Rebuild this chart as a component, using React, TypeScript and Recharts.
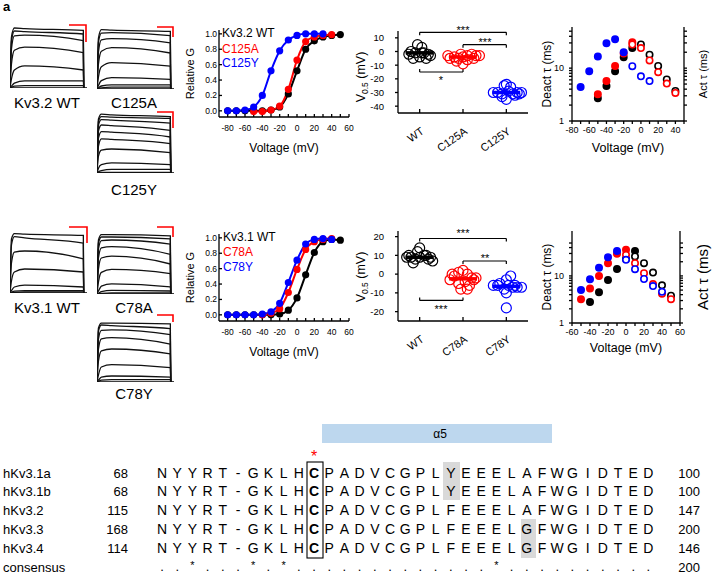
import React from "react";
import { LineChart, Line, XAxis, YAxis, ReferenceLine, ScatterChart, Scatter } from "recharts";

const FONT = 'Arial, "Liberation Sans", Helvetica, sans-serif';
const BLACK = "#000000";
const RED = "#ff0000";
const BLUE = "#0000ff";

// ---- current traces (normalised amplitude at TRACE_T, arbitrary time units) ----
const TRACE_T = [0, 2, 6, 20, 100, 100.5];
const KV32_WT_TRACES = [
  [0, 0.85, 1.0, 0.99, 0.96, 0],
  [0, 0.78, 0.95, 0.94, 0.9, 0],
  [0, 0.65, 0.87, 0.88, 0.79, 0],
  [0, 0.4, 0.63, 0.68, 0.59, 0],
  [0, 0.15, 0.3, 0.37, 0.3, 0],
  [0, 0.03, 0.08, 0.12, 0.12, 0],
  [0, 0.01, 0.03, 0.04, 0.04, 0],
];
const C125A_TRACES = [
  [0, 0.85, 0.99, 0.98, 0.96, 0],
  [0, 0.78, 0.93, 0.94, 0.89, 0],
  [0, 0.62, 0.82, 0.84, 0.77, 0],
  [0, 0.42, 0.63, 0.69, 0.6, 0],
  [0, 0.2, 0.37, 0.44, 0.38, 0],
  [0, 0.06, 0.14, 0.19, 0.16, 0],
  [0, 0.02, 0.05, 0.07, 0.07, 0],
  [0, 0.01, 0.02, 0.03, 0.03, 0],
];
const C125Y_TRACES = [
  [0, 0.9, 0.98, 0.97, 0.94, 0],
  [0, 0.86, 0.94, 0.93, 0.91, 0],
  [0, 0.8, 0.89, 0.88, 0.83, 0],
  [0, 0.7, 0.8, 0.79, 0.71, 0],
  [0, 0.58, 0.69, 0.68, 0.6, 0],
  [0, 0.45, 0.57, 0.56, 0.49, 0],
  [0, 0.28, 0.38, 0.4, 0.34, 0],
  [0, 0.08, 0.14, 0.17, 0.14, 0],
  [0, 0.02, 0.04, 0.06, 0.06, 0],
  [0, 0.005, 0.01, 0.01, 0.01, 0],
];
const KV31_WT_TRACES = [
  [0, 0.9, 0.99, 0.98, 0.96, 0],
  [0, 0.8, 0.94, 0.92, 0.83, 0],
  [0, 0.5, 0.68, 0.7, 0.57, 0],
  [0, 0.2, 0.35, 0.4, 0.35, 0],
  [0, 0.04, 0.1, 0.13, 0.1, 0],
  [0, 0.01, 0.03, 0.04, 0.04, 0],
  [0, 0.005, 0.01, 0.02, 0.02, 0],
];
const C78A_TRACES = [
  [0, 0.9, 0.99, 0.99, 0.97, 0],
  [0, 0.85, 0.95, 0.95, 0.92, 0],
  [0, 0.75, 0.89, 0.9, 0.83, 0],
  [0, 0.6, 0.77, 0.79, 0.66, 0],
  [0, 0.42, 0.6, 0.63, 0.5, 0],
  [0, 0.2, 0.36, 0.41, 0.34, 0],
  [0, 0.05, 0.13, 0.17, 0.12, 0],
  [0, 0.01, 0.04, 0.06, 0.05, 0],
  [0, 0.005, 0.01, 0.02, 0.02, 0],
];
const C78Y_TRACES = [
  [0, 0.9, 0.98, 0.98, 0.97, 0],
  [0, 0.85, 0.95, 0.94, 0.89, 0],
  [0, 0.72, 0.86, 0.87, 0.79, 0],
  [0, 0.55, 0.72, 0.74, 0.63, 0],
  [0, 0.35, 0.52, 0.55, 0.47, 0],
  [0, 0.12, 0.25, 0.29, 0.24, 0],
  [0, 0.03, 0.08, 0.1, 0.08, 0],
  [0, 0.01, 0.03, 0.04, 0.04, 0],
];

// ---- G-V curves ----
const GV_VOLT = [-80, -70, -60, -50, -40, -30, -20, -10, 0, 10, 20, 30, 40, 50];
const GV_KV32_WT = [0, 0, 0, 0, 0, 0.01, 0.05, 0.22, 0.52, 0.8, 0.91, 0.96, 0.98, 0.99];
const GV_C125A = [null, null, null, -0.01, -0.01, 0.01, 0.06, 0.28, 0.66, 0.9, 0.96, 0.98, 0.99, null];
const GV_C125Y = [0, 0, 0.01, 0.05, 0.2, 0.52, 0.78, 0.92, 0.98, 1.0, 1.0, 1.0, null, null];
const GV_KV31_WT = [0, 0, 0, 0, 0, 0, 0.01, 0.06, 0.22, 0.52, 0.81, 0.95, 0.98, 0.97];
const GV_C78A = [null, null, null, null, 0, 0.02, 0.08, 0.29, 0.59, 0.85, 0.95, 0.98, 0.99, null];
const GV_C78Y = [0, 0, 0, 0, 0.01, 0.04, 0.15, 0.42, 0.71, 0.92, 0.98, 0.99, 0.98, null];
const GV_X_TICKS = [-80, -70, -60, -50, -40, -30, -20, -10, 0, 10, 20, 30, 40, 50, 60];
const GV_Y_TICKS = [0, 0.2, 0.4, 0.6, 0.8, 1.0];

// ---- V0.5 scatter (offset within category, value in mV) ----
const V05_KV32_CATS = ["WT", "C125A", "C125Y"];
const V05_KV31_CATS = ["WT", "C78A", "C78Y"];
const V05_KV32_WT_OFF = [-0.05, 0.05, -0.2, -0.1, 0.1, 0.2, -0.25, 0, -0.15, 0.15, 0.25, 0.05];
const V05_KV32_WT = [5, 3, 0, -1, -1, -2, -2, -4, -5, -5, -3, -1];
const V05_C125A_OFF = [-0.35, -0.2, -0.1, 0, 0.1, 0.2, 0.3, 0.38, -0.3, -0.15, 0, 0.1, -0.05, 0.25];
const V05_C125A = [-3, -4, -5, -4, -3, -2, -3, -3, -5, -7, -9, -6, -2, -5];
const V05_C125Y_OFF = [0, -0.05, 0.1, -0.3, -0.2, -0.1, 0.05, 0.15, 0.25, 0.35, 0, -0.1, 0.2, 0.3];
const V05_C125Y = [-24, -25, -26, -30, -30, -31, -29, -31, -30, -30, -35, -33, -32, -31];
const V05_KV32_MEANS = [-1, -4, -30];
const V05_KV31_WT_OFF = [0, -0.05, 0.1, -0.3, -0.2, -0.1, 0.2, 0.3, -0.15, 0, 0.15, 0.25, -0.25];
const V05_KV31_WT = [14, 12, 10, 9, 9, 8, 8, 7, 6, 9, 10, 9, 10];
const V05_C78A_OFF = [0, -0.1, 0.1, -0.25, -0.2, 0.2, 0.3, -0.3, 0.05, -0.1, 0.15, -0.05, 0.1, 0.25];
const V05_C78A = [2, 1, 0, 0, -1, -2, -2, -3, -4, -5, -6, -8, -8, -3];
const V05_C78Y_OFF = [0.1, 0, -0.15, -0.3, -0.2, 0.05, 0.15, 0.25, 0.35, -0.05, 0, 0, 0.2];
const V05_C78Y = [-1, -3, -5, -6, -6, -6, -7, -7, -7, -8, -10, -18, -6];
const V05_KV31_MEANS = [9, -2.5, -6.5];

// ---- time constants (ms) ----
const TAU32_WT_DEACT_V = [-50, -40, -30, -20, -10];
const TAU32_WT_DEACT = [2.7, 4.6, 8.7, 16, 24];
const TAU32_WT_ACT_V = [0, 10, 20, 30, 40];
const TAU32_WT_ACT = [28, 18, 11, 6.1, 3.7];
const TAU32_A_DEACT_V = [-50, -40, -30, -20, -10];
const TAU32_A_DEACT = [3.2, 5.7, 11, 19, 31];
const TAU32_A_ACT_V = [-10, 0, 10, 20, 30, 40];
const TAU32_A_ACT = [28, 24, 14, 8.4, 5.1, 3.4];
const TAU32_Y_DEACT_V = [-70, -60, -50, -40, -30, -20];
const TAU32_Y_DEACT = [4.4, 8.7, 16.6, 29.7, 35, 20];
const TAU32_Y_ACT_V = [-10, 0, 10];
const TAU32_Y_ACT = [10.9, 7, 5.7];

const TAU31_WT_DEACT_V = [-40, -30, -20, -10, 0, 10];
const TAU31_WT_DEACT = [2.8, 4.5, 8.2, 14, 23, 34];
const TAU31_WT_ACT_V = [10, 20, 30, 40, 50];
const TAU31_WT_ACT = [26, 18.7, 11.8, 6.3, 3.8];
const TAU31_A_DEACT_V = [-50, -40, -30, -20, -10, 0];
const TAU31_A_DEACT = [3.2, 5.4, 10, 18.7, 29.5, 36];
const TAU31_A_ACT_V = [0, 10, 20, 30, 40, 50];
const TAU31_A_ACT = [28, 18.7, 11.4, 6.7, 4.2, 3.2];
const TAU31_Y_DEACT_V = [-50, -40, -30, -20, -10];
const TAU31_Y_DEACT = [5, 8.5, 15, 25, 34];
const TAU31_Y_ACT_V = [0, 10, 20, 30, 40];
const TAU31_Y_ACT = [22, 13.9, 8.6, 6.1, 4.6];

const LOG_TICKS = [1, 2, 3, 4, 5, 6, 7, 8, 9, 10, 20, 30, 40, 50];
const TAU32_X_TICKS = [-80, -70, -60, -50, -40, -30, -20, -10, 0, 10, 20, 30, 40, 50];
const TAU31_X_TICKS = [-60, -50, -40, -30, -20, -10, 0, 10, 20, 30, 40, 50, 60];

// ---- alignment ----
const ALIGN_NAMES = ["hKv3.1a", "hKv3.1b", "hKv3.2", "hKv3.3", "hKv3.4"];
const ALIGN_START = [68, 68, 115, 168, 114];
const ALIGN_END = [100, 100, 147, 200, 146];
const ALIGN_SEQS = [
  "NYYRT-GKLHCPADVCGPLYEEELAFWGIDTED",
  "NYYRT-GKLHCPADVCGPLYEEELAFWGIDTED",
  "NYYRT-GKLHCPADVCGPLFEEELAFWGIDTED",
  "NYYRT-GKLHCPADVCGPLFEEELGFWGIDTED",
  "NYYRT-GKLHCPADVCGPLFEEELGFWGIDTED",
];
const CONSENSUS = "..*...*.*.............*..........";

const tauRows = (vs: number[], ts: number[]) => vs.map((v, i) => ({ v, tau: ts[i] }));
const v05Rows = (group: number, offs: number[], vals: number[]) =>
  offs.map((o, i) => ({ x: group + 0.5 + o, y: vals[i] }));

function TracePanel({ left, baseline, traces }: { left: number; baseline: number; traces: number[][] }) {
  const rows = TRACE_T.map((t, i) => {
    const row: Record<string, number> = { t };
    traces.forEach((tr, k) => (row["s" + k] = tr[i]));
    return row;
  });
  return (
    <div style={{ position: "absolute", left, top: baseline - 63 }}>
      <LineChart width={77} height={63} data={rows} margin={{ top: 0, right: 0, bottom: 0, left: 0 }}>
        <XAxis type="number" dataKey="t" domain={[0, 105]} hide />
        <YAxis type="number" domain={[0, 1.05]} hide />
        <ReferenceLine y={0} stroke={BLACK} strokeWidth={1.4} />
        {traces.map((_, k) => (
          <Line key={k} dataKey={"s" + k} type="monotone" stroke="#111111" strokeWidth={1.3} dot={false} isAnimationActive={false} />
        ))}
      </LineChart>
    </div>
  );
}

const tickStyle = (size: number) => ({ fontSize: size, fill: BLACK });

function GVPanel({ top, series }: { top: number; series: { values: (number | null)[]; color: string }[] }) {
  const rows = GV_VOLT.map((v, i) => {
    const row: Record<string, number | null> = { v };
    series.forEach((s, k) => (row["g" + k] = s.values[i]));
    return row;
  });
  return (
    <div style={{ position: "absolute", left: 180, top }}>
      <LineChart width={180} height={160} data={rows} margin={{ top: 30, right: 11, bottom: 8, left: 0 }}>
        <XAxis
          type="number"
          dataKey="v"
          domain={[-90, 60]}
          ticks={GV_X_TICKS}
          interval={0}
          tickFormatter={(v: number) => (v % 20 === 0 ? String(v) : "")}
          tick={tickStyle(8.5)}
          tickSize={-3}
          tickMargin={11}
          stroke={BLACK}
          strokeWidth={1.3}
          height={35}
          label={{ value: "Voltage (mV)", position: "insideBottom", offset: 0, fontSize: 12, fill: BLACK }}
        />
        <YAxis
          type="number"
          domain={[-0.08, 1.05]}
          ticks={GV_Y_TICKS}
          interval={0}
          tickFormatter={(v: number) => v.toFixed(1)}
          tick={tickStyle(8.5)}
          tickSize={-3}
          tickMargin={5}
          stroke={BLACK}
          strokeWidth={1.3}
          width={39}
          label={{ value: "Relative G", angle: -90, position: "insideLeft", offset: 10, fontSize: 11, fill: BLACK, style: { textAnchor: "middle" } }}
        />
        {series.map((s, k) => (
          <Line
            key={k}
            dataKey={"g" + k}
            type="monotone"
            stroke={s.color}
            strokeWidth={2}
            dot={{ r: 2.6, fill: s.color, stroke: s.color }}
            connectNulls
            isAnimationActive={false}
          />
        ))}
      </LineChart>
    </div>
  );
}

type Bracket = { a: number; b: number; y: number; dir: number };

function V05Panel({
  top, cats, domain, ticks, groups, means, brackets, tick,
}: {
  top: number; cats: string[]; domain: [number, number]; ticks: number[];
  groups: { offs: number[]; vals: number[]; color: string }[]; means: number[]; brackets: Bracket[]; tick: number;
}) {
  const catTick = (props: any) => {
    const { x, y, payload } = props;
    const ax = x + 5;
    const ay = y + 16;
    return (
      <text x={ax} y={ay} textAnchor="end" fontSize={11} fill={BLACK} transform={`rotate(-35, ${ax}, ${ay})`}>
        {cats[Math.floor(payload.value)]}
      </text>
    );
  };
  const plotH = top === 0 ? 82 : 90;
  return (
    <div style={{ position: "absolute", left: 360, top }}>
      <ScatterChart width={180} height={160} margin={{ top: 31, right: 12, bottom: 160 - 31 - plotH - 38, left: 0 }}>
        <XAxis
          type="number"
          dataKey="x"
          domain={[0, 3]}
          ticks={[0.5, 1.5, 2.5]}
          interval={0}
          tick={catTick}
          tickSize={-4}
          tickMargin={8}
          stroke={BLACK}
          strokeWidth={1.3}
          height={38}
        />
        <YAxis
          type="number"
          dataKey="y"
          domain={domain}
          ticks={ticks}
          interval={0}
          tick={tickStyle(9.5)}
          tickSize={3}
          tickMargin={11}
          stroke={BLACK}
          strokeWidth={1.3}
          width={38}
          allowDataOverflow
        />
        {groups.map((g, k) => (
          <Scatter
            key={k}
            data={v05Rows(k, g.offs, g.vals)}
            isAnimationActive={false}
            shape={(p: any) => <circle cx={p.cx} cy={p.cy} r={5} fill="none" stroke={g.color} strokeWidth={1.2} />}
          />
        ))}
        {means.map((m, k) => (
          <ReferenceLine
            key={"m" + k}
            segment={[{ x: k + 0.18, y: m }, { x: k + 0.82, y: m }]}
            stroke={groups[k].color}
            strokeWidth={3.5}
          />
        ))}
        {brackets.map((b, k) => [
          <ReferenceLine key={"b" + k} segment={[{ x: b.a, y: b.y }, { x: b.b, y: b.y }]} stroke={BLACK} strokeWidth={1.2} />,
          <ReferenceLine key={"l" + k} segment={[{ x: b.a, y: b.y }, { x: b.a, y: b.y + b.dir * tick }]} stroke={BLACK} strokeWidth={1.2} />,
          <ReferenceLine key={"r" + k} segment={[{ x: b.b, y: b.y }, { x: b.b, y: b.y + b.dir * tick }]} stroke={BLACK} strokeWidth={1.2} />,
        ])}
      </ScatterChart>
    </div>
  );
}

type TauSeries = { rows: { v: number; tau: number }[]; color: string; open: boolean };

function TauPanel({
  top, xDomain, xTicks, yMax, plotH, rightW, rightFont, series,
}: {
  top: number; xDomain: [number, number]; xTicks: number[]; yMax: number; plotH: number; rightW: number; rightFont: number; series: TauSeries[];
}) {
  const xAxisH = top === 0 ? 31 : 29;
  const logTicks = LOG_TICKS.filter((t) => t <= yMax);
  return (
    <div style={{ position: "absolute", left: 540, top }}>
      <ScatterChart width={175} height={160} margin={{ top: 160 - 8 - xAxisH - plotH, right: 0, bottom: 8, left: 0 }}>
        <XAxis
          type="number"
          dataKey="v"
          domain={xDomain}
          ticks={xTicks}
          interval={0}
          tickFormatter={(v: number) => (v % 20 === 0 ? String(v) : "")}
          tick={tickStyle(9)}
          tickSize={3}
          tickMargin={3}
          stroke={BLACK}
          strokeWidth={1.3}
          height={xAxisH}
          label={{ value: "Voltage (mV)", position: "insideBottom", offset: 0, fontSize: 12.5, fill: BLACK }}
        />
        <YAxis
          yAxisId="l"
          type="number"
          dataKey="tau"
          scale="log"
          domain={[1, yMax]}
          allowDataOverflow
          ticks={logTicks}
          interval={0}
          tickFormatter={(v: number) => (v === 1 || v === 10 ? String(v) : "")}
          tick={tickStyle(9)}
          tickSize={3}
          tickMargin={5}
          stroke={BLACK}
          strokeWidth={1.3}
          width={32}
          label={{ value: "Deact τ (ms)", angle: -90, position: "insideLeft", offset: 7, fontSize: 12, fill: BLACK, style: { textAnchor: "middle" } }}
        />
        <YAxis
          yAxisId="r"
          orientation="right"
          type="number"
          scale="log"
          domain={[1, yMax]}
          allowDataOverflow
          ticks={logTicks}
          interval={0}
          tickFormatter={() => ""}
          tickSize={3}
          stroke={BLACK}
          strokeWidth={1.3}
          width={rightW}
          label={{ value: "Act τ (ms)", angle: -90, position: "insideRight", offset: 12, fontSize: rightFont, fill: BLACK, style: { textAnchor: "middle" } }}
        />
        {series.map((s, k) => (
          <Scatter
            key={k}
            yAxisId="l"
            data={s.rows}
            isAnimationActive={false}
            shape={(p: any) => (
              <circle cx={p.cx} cy={p.cy} r={3.2} fill={s.open ? "#ffffff" : s.color} stroke={s.color} strokeWidth={1.6} />
            )}
          />
        ))}
      </ScatterChart>
    </div>
  );
}

function ScaleBar({ x1, x2, y, y2 }: { x1: number; x2: number; y: number; y2: number }) {
  return <path d={`M${x1},${y} H${x2} V${y2}`} fill="none" stroke={RED} strokeWidth={1.6} />;
}

function Overlay() {
  const colX = (i: number) => 162 + 15.2 * i;
  const rowY = [473, 491, 510, 529, 548];
  return (
    <svg width={715} height={577} style={{ position: "absolute", left: 0, top: 0, pointerEvents: "none" }} fontFamily={FONT}>
      <text x={3} y={11} fontSize={13} fontWeight="bold">a</text>

      {/* trace labels and scale bars */}
      <text x={47} y={108} fontSize={15} textAnchor="middle">Kv3.2 WT</text>
      <text x={134} y={108} fontSize={15} textAnchor="middle">C125A</text>
      <text x={134} y={195} fontSize={15} textAnchor="middle">C125Y</text>
      <text x={47} y={313} fontSize={15} textAnchor="middle">Kv3.1 WT</text>
      <text x={134} y={313} fontSize={15} textAnchor="middle">C78A</text>
      <text x={134} y={399} fontSize={15} textAnchor="middle">C78Y</text>
      <ScaleBar x1={69} x2={86} y={25} y2={42} />
      <ScaleBar x1={157} x2={173} y={27} y2={37} />
      <ScaleBar x1={157} x2={173} y={112} y2={128} />
      <ScaleBar x1={69} x2={87} y={227} y2={243} />
      <ScaleBar x1={157} x2={173} y={227} y2={237} />
      <ScaleBar x1={157} x2={173} y={315} y2={322} />

      {/* G-V legends */}
      <text x={222} y={37} fontSize={12} fill={BLACK}>Kv3.2 WT</text>
      <text x={222} y={53} fontSize={12} fill={RED}>C125A</text>
      <text x={222} y={67} fontSize={12} fill={BLUE}>C125Y</text>
      <text x={223} y={241} fontSize={12} fill={BLACK}>Kv3.1 WT</text>
      <text x={223} y={256} fontSize={12} fill={RED}>C78A</text>
      <text x={223} y={271} fontSize={12} fill={BLUE}>C78Y</text>

      {/* V0.5 axis titles */}
      <text transform="translate(365,77) rotate(-90)" textAnchor="middle" fontSize={12.5}>
        V<tspan fontSize={8.5} dy={3}>0.5</tspan><tspan dy={-3}> (mV)</tspan>
      </text>
      <text transform="translate(365,277) rotate(-90)" textAnchor="middle" fontSize={12.5}>
        V<tspan fontSize={8.5} dy={3}>0.5</tspan><tspan dy={-3}> (mV)</tspan>
      </text>

      {/* significance */}
      <text x={463} y={34} fontSize={11} textAnchor="middle">***</text>
      <text x={485} y={46} fontSize={11} textAnchor="middle">***</text>
      <text x={441} y={84} fontSize={11} textAnchor="middle">*</text>
      <text x={463} y={237} fontSize={11} textAnchor="middle">***</text>
      <text x={485} y={262} fontSize={11} textAnchor="middle">**</text>
      <text x={441} y={313} fontSize={11} textAnchor="middle">***</text>

      {/* alignment */}
      <rect x={322} y={424} width={230} height={19} fill="#bdd7ee" />
      <text x={440} y={438} fontSize={12} textAnchor="middle">α5</text>
      <rect x={443} y={462} width={17} height={38} fill="#d9d9d9" />
      <rect x={521} y={519} width={15} height={39} fill="#d9d9d9" />
      <rect x={307} y={462} width={16} height={96} fill="none" stroke={BLACK} strokeWidth={1.1} />
      <text x={314} y={462} fontSize={16} fill={RED} textAnchor="middle">*</text>
      {ALIGN_NAMES.map((n, r) => (
        <g key={n} fontSize={13}>
          <text x={3} y={rowY[r] + 5}>{n}</text>
          <text x={128} y={rowY[r] + 5} textAnchor="end">{ALIGN_START[r]}</text>
          <text x={700} y={rowY[r] + 5} textAnchor="end">{ALIGN_END[r]}</text>
          {ALIGN_SEQS[r].split("").map((c, i) => (
            <text key={i} x={colX(i)} y={rowY[r] + 5} fontSize={14} textAnchor="middle" fontWeight={i === 10 ? "bold" : "normal"}>
              {c}
            </text>
          ))}
        </g>
      ))}
      <text x={3} y={572} fontSize={13}>consensus</text>
      <text x={700} y={572} fontSize={13} textAnchor="end">200</text>
      {CONSENSUS.split("").map((c, i) => (
        <text key={i} x={colX(i)} y={c === "*" ? 569 : 571} fontSize={c === "*" ? 11 : 13} textAnchor="middle">
          {c}
        </text>
      ))}
    </svg>
  );
}

export default function App() {
  return (
    <div style={{ position: "absolute", left: 0, top: 0, width: 715, height: 577, background: "#ffffff", fontFamily: FONT, overflow: "hidden" }}>
      <TracePanel left={10} baseline={88} traces={KV32_WT_TRACES} />
      <TracePanel left={97} baseline={89} traces={C125A_TRACES} />
      <TracePanel left={97} baseline={173} traces={C125Y_TRACES} />
      <TracePanel left={10} baseline={293} traces={KV31_WT_TRACES} />
      <TracePanel left={97} baseline={294} traces={C78A_TRACES} />
      <TracePanel left={97} baseline={382} traces={C78Y_TRACES} />

      <GVPanel
        top={0}
        series={[
          { values: GV_KV32_WT, color: BLACK },
          { values: GV_C125A, color: RED },
          { values: GV_C125Y, color: BLUE },
        ]}
      />
      <GVPanel
        top={204}
        series={[
          { values: GV_KV31_WT, color: BLACK },
          { values: GV_C78A, color: RED },
          { values: GV_C78Y, color: BLUE },
        ]}
      />

      <V05Panel
        top={0}
        cats={V05_KV32_CATS}
        domain={[-45, 15]}
        ticks={[-40, -30, -20, -10, 0, 10]}
        groups={[
          { offs: V05_KV32_WT_OFF, vals: V05_KV32_WT, color: BLACK },
          { offs: V05_C125A_OFF, vals: V05_C125A, color: RED },
          { offs: V05_C125Y_OFF, vals: V05_C125Y, color: BLUE },
        ]}
        means={V05_KV32_MEANS}
        brackets={[
          { a: 0.5, b: 2.5, y: 14, dir: -1 },
          { a: 1.5, b: 2.5, y: 5, dir: -1 },
          { a: 0.5, b: 1.5, y: -15, dir: 1 },
        ]}
        tick={2.2}
      />
      <V05Panel
        top={200}
        cats={V05_KV31_CATS}
        domain={[-25, 23]}
        ticks={[-20, -10, 0, 10, 20]}
        groups={[
          { offs: V05_KV31_WT_OFF, vals: V05_KV31_WT, color: BLACK },
          { offs: V05_C78A_OFF, vals: V05_C78A, color: RED },
          { offs: V05_C78Y_OFF, vals: V05_C78Y, color: BLUE },
        ]}
        means={V05_KV31_MEANS}
        brackets={[
          { a: 0.5, b: 2.5, y: 19, dir: -1 },
          { a: 1.5, b: 2.5, y: 7, dir: -1 },
          { a: 0.5, b: 1.5, y: -14, dir: 1 },
        ]}
        tick={1.6}
      />

      <TauPanel
        top={0}
        xDomain={[-80, 50]}
        xTicks={TAU32_X_TICKS}
        yMax={60}
        plotH={94}
        rightW={31}
        rightFont={11}
        series={[
          { rows: tauRows(TAU32_WT_DEACT_V, TAU32_WT_DEACT), color: BLACK, open: false },
          { rows: tauRows(TAU32_WT_ACT_V, TAU32_WT_ACT), color: BLACK, open: true },
          { rows: tauRows(TAU32_A_DEACT_V, TAU32_A_DEACT), color: RED, open: false },
          { rows: tauRows(TAU32_A_ACT_V, TAU32_A_ACT), color: RED, open: true },
          { rows: tauRows(TAU32_Y_DEACT_V, TAU32_Y_DEACT), color: BLUE, open: false },
          { rows: tauRows(TAU32_Y_ACT_V, TAU32_Y_ACT), color: BLUE, open: true },
        ]}
      />
      <TauPanel
        top={200}
        xDomain={[-60, 60]}
        xTicks={TAU31_X_TICKS}
        yMax={90}
        plotH={92}
        rightW={35}
        rightFont={15}
        series={[
          { rows: tauRows(TAU31_WT_DEACT_V, TAU31_WT_DEACT), color: BLACK, open: false },
          { rows: tauRows(TAU31_WT_ACT_V, TAU31_WT_ACT), color: BLACK, open: true },
          { rows: tauRows(TAU31_A_DEACT_V, TAU31_A_DEACT), color: RED, open: false },
          { rows: tauRows(TAU31_A_ACT_V, TAU31_A_ACT), color: RED, open: true },
          { rows: tauRows(TAU31_Y_DEACT_V, TAU31_Y_DEACT), color: BLUE, open: false },
          { rows: tauRows(TAU31_Y_ACT_V, TAU31_Y_ACT), color: BLUE, open: true },
        ]}
      />

      <Overlay />
    </div>
  );
}
